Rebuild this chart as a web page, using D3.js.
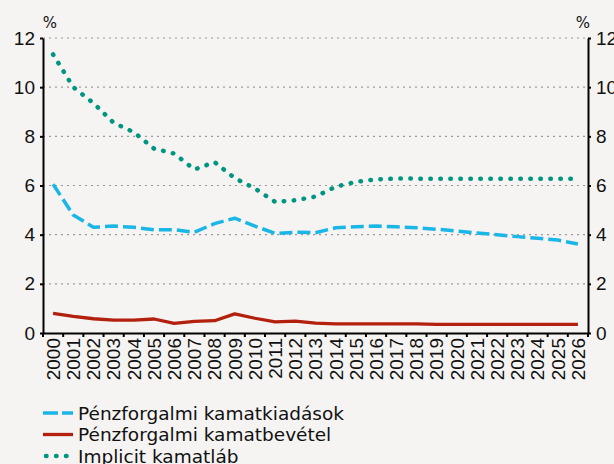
<!DOCTYPE html>
<html>
<head>
<meta charset="utf-8">
<script src="https://cdn.jsdelivr.net/npm/d3@7"></script>
<style>
  body { margin: 0; background: #f5f4f2; }
  svg { display: block; font-family: "DejaVu Sans", sans-serif; }
</style>
</head>
<body>
<svg width="614" height="464"></svg>
<script>
// years on the x axis
const years = ["2000","2001","2002","2003","2004","2005","2006","2007","2008","2009","2010","2011","2012","2013",
  "2014","2015","2016","2017","2018","2019","2020","2021","2022","2023","2024","2025","2026"];

// values, in %
const kiadasok = [6.05,4.8,4.3,4.35,4.3,4.2,4.2,4.1,4.45,4.67,4.35,4.05,4.1,4.08,
  4.28,4.32,4.35,4.32,4.28,4.22,4.15,4.07,4.0,3.92,3.85,3.78,3.62];
const bevetel = [0.8,0.68,0.58,0.52,0.52,0.57,0.39,0.47,0.5,0.78,0.6,0.45,0.48,0.4,
  0.37,0.37,0.37,0.37,0.37,0.35,0.35,0.35,0.35,0.35,0.35,0.35,0.35];
const implicit = [11.33,10.0,9.35,8.55,8.17,7.5,7.3,6.65,6.95,6.3,5.88,5.33,5.4,5.55,
  5.95,6.15,6.25,6.28,6.28,6.27,6.27,6.27,6.27,6.27,6.27,6.27,6.27];

const yTicks = [0,2,4,6,8,10,12];

const seriesNames = ["Pénzforgalmi kamatkiadások", "Pénzforgalmi kamatbevétel", "Implicit kamatláb"];

const svg = d3.select('svg');
const margin = { top: 38, right: 26, bottom: 131, left: 43 };
const width = +svg.attr('width');
const height = +svg.attr('height');
const innerWidth = width - margin.left - margin.right;
const innerHeight = height - margin.top - margin.bottom;

const xScale = d3.scaleBand().domain(years).range([0, innerWidth]);
const yScale = d3.scaleLinear().domain([0, 12]).range([innerHeight, 0]);

const g = svg.append('g').attr('transform', `translate(${margin.left}, ${margin.top})`);

// dotted gridlines
g.append('g')
  .selectAll('line')
  .data(yTicks.filter(d => d > 0))
  .join('line')
  .attr('x1', 0).attr('x2', innerWidth)
  .attr('y1', d => yScale(d)).attr('y2', d => yScale(d))
  .attr('stroke', '#9a9a9a')
  .attr('stroke-width', 1.2)
  .attr('stroke-dasharray', '2,4');

// left and right axis
const styleAxis = sel => {
  sel.select('.domain').attr('stroke', '#000').attr('stroke-width', 2);
  sel.selectAll('.tick line').attr('stroke', '#000').attr('stroke-width', 2);
  sel.selectAll('.tick text').attr('font-size', 19).attr('fill', '#111');
};
g.append('g')
  .call(d3.axisLeft(yScale).tickValues(yTicks).tickSize(3).tickSizeOuter(0).tickPadding(5))
  .call(styleAxis);
g.append('g')
  .attr('transform', `translate(${innerWidth}, 0)`)
  .call(d3.axisRight(yScale).tickValues(yTicks).tickSize(3).tickSizeOuter(0).tickPadding(5))
  .call(styleAxis);

// x axis: ticks between the years, labels rotated
const xAxis = g.append('g')
  .attr('transform', `translate(0, ${innerHeight})`)
  .call(d3.axisBottom(xScale).tickSize(0).tickSizeOuter(0).tickPadding(0));
xAxis.select('.domain').attr('stroke', '#000').attr('stroke-width', 2);
xAxis.selectAll('.tick text')
  .attr('font-size', 19)
  .attr('fill', '#111')
  .attr('transform', 'rotate(-90)')
  .attr('text-anchor', 'end')
  .attr('x', -5)
  .attr('y', 0)
  .attr('dy', '0.36em');
xAxis.append('g')
  .selectAll('line')
  .data(years.map(d => xScale(d)).concat([innerWidth]))
  .join('line')
  .attr('x1', d => d).attr('x2', d => d)
  .attr('y1', 0).attr('y2', 4)
  .attr('stroke', '#000').attr('stroke-width', 2);

// % labels
svg.append('text').attr('x', 50).attr('y', 28).attr('text-anchor', 'middle')
  .attr('font-size', 15).attr('fill', '#111').text('%');
svg.append('text').attr('x', 583).attr('y', 28).attr('text-anchor', 'middle')
  .attr('font-size', 15).attr('fill', '#111').text('%');

// lines
const line = d3.line()
  .x((d, i) => xScale(years[i]) + xScale.bandwidth() / 2)
  .y(d => yScale(d));

const styles = [
  { data: kiadasok, color: '#1ab6e6', width: 3.5, dash: '13,5', cap: 'butt' },
  { data: bevetel, color: '#b3200e', width: 3.3, dash: null, cap: 'butt' },
  { data: implicit, color: '#00957f', width: 4.5, dash: '0.5,9.5', cap: 'round' }
];

g.append('g')
  .selectAll('path')
  .data(styles)
  .join('path')
  .attr('d', d => line(d.data))
  .attr('fill', 'none')
  .attr('stroke', d => d.color)
  .attr('stroke-width', d => d.width)
  .attr('stroke-dasharray', d => d.dash)
  .attr('stroke-linecap', d => d.cap)
  .attr('stroke-linejoin', 'round');

// legend
const legend = svg.append('g')
  .selectAll('g')
  .data(styles)
  .join('g')
  .attr('transform', (d, i) => `translate(43, ${413 + i * 21.5})`);
legend.append('line')
  .attr('x1', d => d.cap === 'round' ? 3 : 0).attr('x2', 30)
  .attr('stroke', d => d.color)
  .attr('stroke-width', d => d.width)
  .attr('stroke-dasharray', (d, i) => i === 0 ? '15,4' : d.dash)
  .attr('stroke-linecap', d => d.cap);
legend.append('text')
  .attr('x', 35)
  .attr('dy', '0.36em')
  .attr('font-size', 18.5)
  .attr('fill', '#111')
  .text((d, i) => seriesNames[i]);
</script>
</body>
</html>
